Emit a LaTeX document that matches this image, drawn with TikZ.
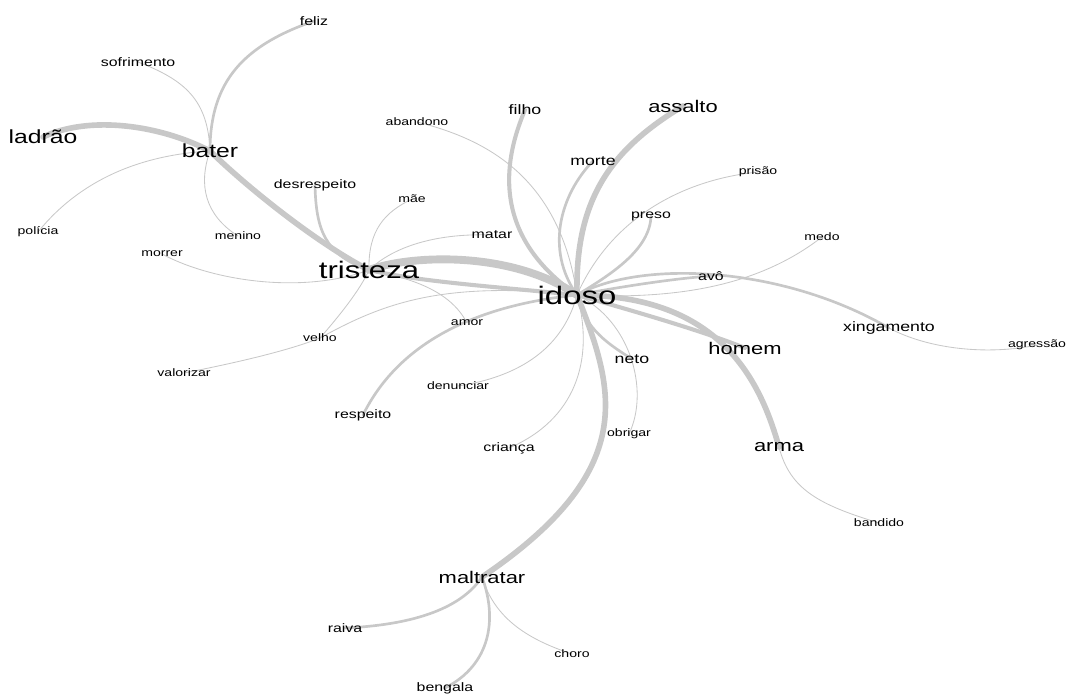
\documentclass[tikz,border=0pt]{standalone}
\usepackage{fontspec}
\newfontfamily\wordfont{Liberation Sans}[FakeStretch=1.3]
\usepackage{xcolor}
\usepackage{tikz}
\usetikzlibrary{backgrounds}
\definecolor{linkgray}{RGB}{200,200,200}

\begin{document}
\begin{tikzpicture}[x=0.025cm, y=-0.025cm,
    word/.style={inner sep=0pt, text=black},
    hubword/.style={word, font=\wordfont\fontsize{18pt}{18pt}\selectfont},
    largeword/.style={word, font=\wordfont\fontsize{17pt}{17pt}\selectfont},
    bigword/.style={word, font=\wordfont\fontsize{13.5pt}{13.5pt}\selectfont},
    midword/.style={word, font=\wordfont\fontsize{12pt}{12pt}\selectfont},
    smallword/.style={word, font=\wordfont\fontsize{9.7pt}{9.7pt}\selectfont},
    minorword/.style={word, font=\wordfont\fontsize{8.7pt}{8.7pt}\selectfont},
    tinyword/.style={word, font=\wordfont\fontsize{7.7pt}{7.7pt}\selectfont},
    link/.style={draw=linkgray, line cap=round},
    thinlink/.style={link, line width=0.6pt},
    midlink/.style={link, line width=1.9pt},
    widelink/.style={link, line width=2.9pt},
    thicklink/.style={link, line width=4pt},
    heavylink/.style={link, line width=5.6pt}
]
\useasboundingbox (0,0) rectangle (1067,693);

% ====================== CENTRAL WORDS ======================
\node[hubword]   (idoso)    at (577,295) {idoso};
\node[largeword] (tristeza) at (369,270) {tristeza};
\node[bigword]   (bater)    at (210,151) {bater};
\node[bigword]   (ladrao)   at (43,137)  {ladrão};

% ====================== UPPER LEFT ======================
\node[minorword] (feliz)       at (314,21)  {feliz};
\node[minorword] (sofrimento)  at (138,62)  {sofrimento};
\node[tinyword]  (policia)     at (38,232)  {polícia};
\node[tinyword]  (menino)      at (238,236) {menino};
\node[tinyword]  (morrer)      at (162,254) {morrer};
\node[minorword] (desrespeito) at (315,185) {desrespeito};
\node[tinyword]  (mae)         at (412,199) {mãe};
\node[minorword] (matar)       at (492,235) {matar};

% ====================== UPPER RIGHT ======================
\node[tinyword]  (abandono) at (417,122) {abandono};
\node[smallword] (filho)    at (525,110) {filho};
\node[midword]   (assalto)  at (683,106) {assalto};
\node[smallword] (morte)    at (593,161) {morte};
\node[tinyword]  (prisao)   at (758,172) {prisão};
\node[minorword] (preso)    at (651,216) {preso};
\node[tinyword]  (medo)     at (822,237) {medo};
\node[minorword] (avo)      at (711,276) {avô};

% ====================== RIGHT ======================
\node[smallword] (xingamento) at (889,328)  {xingamento};
\node[tinyword]  (agressao)   at (1037,345) {agressão};
\node[midword]   (homem)      at (745,348)  {homem};
\node[midword]   (arma)       at (779,447)  {arma};
\node[tinyword]  (bandido)    at (879,523)  {bandido};
\node[smallword] (neto)       at (632,359)  {neto};
\node[tinyword]  (obrigar)    at (629,434)  {obrigar};

% ====================== LOWER LEFT ======================
\node[tinyword]  (amor)      at (467,323) {amor};
\node[tinyword]  (velho)     at (320,338) {velho};
\node[tinyword]  (valorizar) at (184,373) {valorizar};
\node[tinyword]  (denunciar) at (458,386) {denunciar};
\node[minorword] (respeito)  at (363,415) {respeito};
\node[minorword] (crianca)   at (509,448) {criança};

% ====================== BOTTOM ======================
\node[midword]   (maltratar) at (482,577) {maltratar};
\node[minorword] (raiva)     at (345,628) {raiva};
\node[tinyword]  (choro)     at (572,654) {choro};
\node[minorword] (bengala)   at (445,688) {bengala};

% ====================== LINKS ======================
\begin{scope}[on background layer]
% around bater
\draw[thicklink] (bater.center) .. controls (160,125) and (90,115) .. (ladrao.center);
\draw[midlink] (bater.center) .. controls (210,80) and (245,45) .. (feliz.center);
\draw[thinlink] (sofrimento.center) .. controls (185,80) and (208,100) .. (bater.center);
\draw[thinlink] (bater.center) .. controls (198,185) and (205,215) .. (menino.center);
\draw[thinlink] (bater.center) .. controls (140,155) and (80,180) .. (policia.center);
\draw[thicklink] (bater.center) .. controls (250,190) and (320,245) .. (tristeza.center);

% around tristeza
\draw[midlink] (desrespeito.center) .. controls (316,230) and (325,255) .. (tristeza.center);
\draw[thinlink] (mae.center) .. controls (385,212) and (368,230) .. (tristeza.center);
\draw[thinlink] (tristeza.center) .. controls (395,245) and (440,233) .. (matar.center);
\draw[thinlink] (morrer.center) .. controls (210,280) and (300,295) .. (tristeza.center);
\draw[thinlink] (velho.center) .. controls (340,315) and (360,290) .. (tristeza.center);
\draw[thinlink] (tristeza.center) .. controls (410,278) and (450,290) .. (amor.center);
\draw[heavylink] (tristeza.center) .. controls (410,255) and (510,250) .. (idoso.center);
\draw[widelink] (tristeza.center) .. controls (420,282) and (500,287) .. (idoso.center);
\draw[thinlink] (valorizar.center) .. controls (240,362) and (290,350) .. (velho.center);
\draw[thinlink] (velho.center) .. controls (380,305) and (440,280) .. (idoso.center);

% above idoso
\draw[widelink] (filho.center) .. controls (495,180) and (505,245) .. (idoso.center);
\draw[thinlink] (abandono.center) .. controls (490,140) and (560,180) .. (idoso.center);
\draw[midlink] (morte.center) .. controls (560,195) and (545,250) .. (idoso.center);
\draw[thicklink] (assalto.center) .. controls (610,150) and (575,200) .. (idoso.center);
\draw[midlink] (preso.center) .. controls (650,250) and (610,275) .. (idoso.center);
\draw[thinlink] (prisao.center) .. controls (680,180) and (610,220) .. (idoso.center);

% right of idoso
\draw[midlink] (idoso.center) .. controls (630,285) and (680,278) .. (avo.center);
\draw[midlink] (idoso.center) .. controls (640,260) and (780,265) .. (xingamento.center);
\draw[thinlink] (idoso.center) .. controls (680,300) and (760,285) .. (medo.center);
\draw[thicklink] (idoso.center) .. controls (720,295) and (760,380) .. (arma.center);
\draw[widelink] (idoso.center) .. controls (630,310) and (700,330) .. (homem.center);
\draw[thinlink] (arma.center) .. controls (790,490) and (820,505) .. (bandido.center);
\draw[thinlink] (xingamento.center) .. controls (930,350) and (990,355) .. (agressao.center);
\draw[midlink] (idoso.center) .. controls (585,330) and (610,345) .. (neto.center);
\draw[thinlink] (idoso.center) .. controls (630,320) and (650,390) .. (obrigar.center);

% below idoso
\draw[thicklink] (idoso.center) .. controls (615,390) and (640,470) .. (maltratar.center);
\draw[thinlink] (idoso.center) .. controls (595,360) and (575,420) .. (crianca.center);
\draw[thinlink] (idoso.center) .. controls (565,340) and (530,375) .. (denunciar.center);
\draw[midlink] (idoso.center) .. controls (480,305) and (400,340) .. (respeito.center);

% around maltratar
\draw[midlink] (maltratar.center) .. controls (460,610) and (410,625) .. (raiva.center);
\draw[midlink] (maltratar.center) .. controls (498,620) and (490,665) .. (bengala.center);
\draw[thinlink] (maltratar.center) .. controls (495,620) and (530,640) .. (choro.center);
\end{scope}

\end{tikzpicture}
\end{document}
